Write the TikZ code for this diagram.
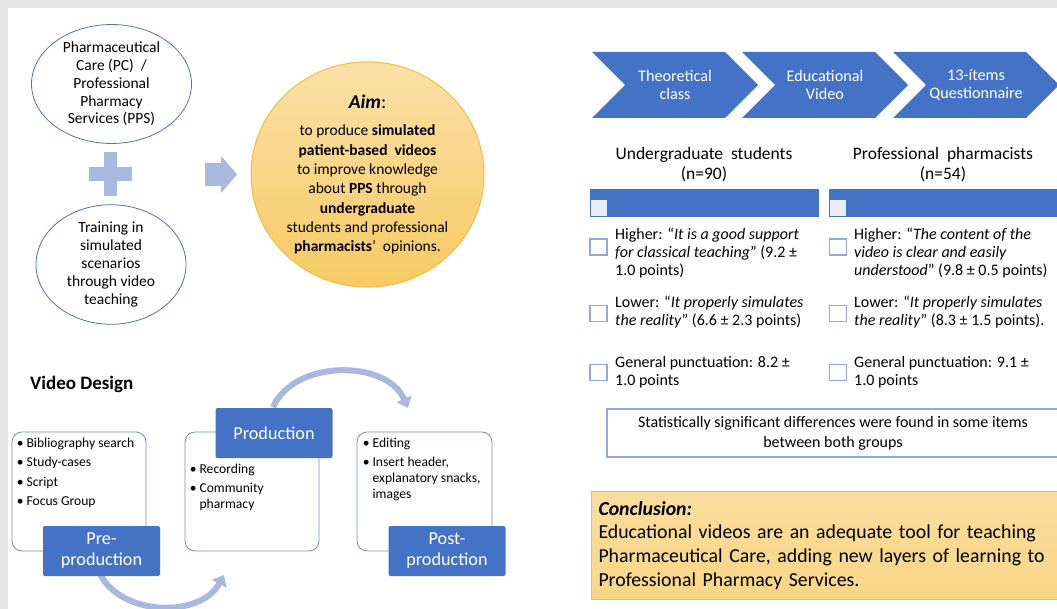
\documentclass[tikz,border=0pt]{standalone}
\usepackage{fontspec}
\setmainfont{Carlito}
\usetikzlibrary{positioning,shapes.geometric,shapes.symbols,arrows.meta}
\definecolor{ppsblue}{HTML}{4472C4}
\definecolor{ppslight}{HTML}{A9B8DE}
\definecolor{ppsline}{HTML}{8EA9DB}
\definecolor{ppspale}{HTML}{E9EEF8}
\definecolor{ppsgold}{HTML}{F5BC3C}
\definecolor{ppsgrey}{HTML}{E7E7E7}
\tikzset{topic/.style={
  ellipse,
  draw=ppsblue,
  line width=0.8,
  inner sep=0,
  align=center,
  font=\fontsize{15.5}{17.8}\selectfont,
  },
  aimblob/.style={
  ellipse,
  draw=ppsgold,
  line width=1,
  top color=ppsgold!45!white,
  bottom color=ppsgold!80!white,
  inner sep=0,
  align=center,
  font=\fontsize{15.5}{19.3}\selectfont,
  },
  stagechev/.style={
  signal, signal from=west, signal to=east,
  fill=ppsblue,
  minimum width=166, minimum height=66,
  inner sep=0,
  text=white, align=center,
  font=\fontsize{16.2}{18}\selectfont,
  },
  grouphead/.style={align=center, font=\fontsize{17.5}{20}\selectfont},
  groupbar/.style={fill=ppsblue, minimum height=28, inner sep=0},
  barmark/.style={fill=ppspale, minimum width=16, minimum height=16, inner sep=0},
  checkbox/.style={draw=ppsline, line width=1.2, minimum width=17, minimum height=16, inner sep=0},
  itemtxt/.style={anchor=west, align=left, inner sep=0, font=\fontsize{16}{18}\selectfont},
  phasebox/.style={draw=ppsblue!80!white, fill=white, line width=0.8, rounded corners=10, minimum height=119, inner sep=0},
  phaselbl/.style={fill=ppsblue, text=white, rounded corners=2, minimum width=117, minimum height=50,
  inner sep=0, align=center, font=\fontsize{18.2}{21}\selectfont},
  bullets/.style={anchor=north west, inner sep=0, font=\fontsize{13.6}{16}\selectfont},
  cyclearrow/.style={draw=ppslight, line width=6, -{Triangle[width=16pt,length=10pt]}},
  notebox/.style={draw=ppsline, line width=1.3, minimum width=452, minimum height=48, inner sep=0,
  align=center, font=\fontsize{16}{20}\selectfont},
  conclbox/.style={draw=ppsgold, line width=1, top color=ppsgold!50!white, bottom color=ppsgold!62!white,
  anchor=north west, text width=475, minimum height=108, inner xsep=7, inner ysep=0,
  align=left, font=\fontsize{19.8}{23.8}\selectfont},
}

\begin{document}
\begin{tikzpicture}[x=1pt,y=-1pt]
  \useasboundingbox (0,0) rectangle (1057,609);
  \fill[ppsgrey] (0,0) rectangle (1057,609);
  \fill[white] (8,8) rectangle (1057,609);

  \node[topic, minimum width=160, minimum height=103] (pps) at (111.5,84)
    {Pharmaceutical\\Care (PC)~ /\\Professional\\Pharmacy\\Services (PPS)};
  \fill[ppslight] (89,167) rectangle (132,181);
  \fill[ppslight] (104,152) rectangle (117,196);
  \node[topic, minimum width=150, minimum height=103] (train) at (111,264.5)
    {Training in\\simulated\\scenarios\\through video\\teaching};
  \fill[ppslight] (205,163) -- (221,163) -- (221,156) -- (237,174.5) -- (221,193) -- (221,186) -- (205,186) -- cycle;

  \node[aimblob, minimum width=233, minimum height=207] (aim) at (367.5,174.5)
    {{\fontsize{19.5}{20}\selectfont\textbf{\textit{Aim}}:}\\[8pt]
     to produce \textbf{simulated}\\
     \textbf{patient-based~ videos}\\
     to improve knowledge\\
     about \textbf{PPS} through\\
     \textbf{undergraduate}\\
     students and professional\\
     \textbf{pharmacists}’~ opinions.};

  \node[anchor=west, inner sep=0, font=\bfseries\fontsize{19}{20}\selectfont] (vdesign) at (30,384) {Video Design};

  \coordinate (topA) at (273,407);
  \coordinate (topB) at (408,408);
  \draw[cyclearrow] (topA) to[bend left=66] (topB);
  \coordinate (botA) at (100,574);
  \coordinate (botB) at (224,575);
  \draw[cyclearrow] (botA) to[bend right=62] (botB);

  \node[phasebox, minimum width=134] (prebox) at (79,491.5) {};
  \node[phasebox, minimum width=134] (prodbox) at (252,491.5) {};
  \node[phasebox, minimum width=135] (postbox) at (424.5,491.5) {};
  \node[phaselbl] (prelbl) at (101.5,551) {Pre-\\production};
  \node[phaselbl] (prodlbl) at (274,433) {Production};
  \node[phaselbl] (postlbl) at (447,551) {Post-\\production};

  \node[bullets] (prelist) at ([shift={(5,4)}]prebox.north west)
    {\begin{tabular}{@{}l@{\hspace{3pt}}l@{}}
     \textbullet & Bibliography search\\[3.5pt]
     \textbullet & Study-cases\\[3.5pt]
     \textbullet & Script\\[3.5pt]
     \textbullet & Focus Group
     \end{tabular}};
  \node[bullets] (prodlist) at ([shift={(5,30)}]prodbox.north west)
    {\begin{tabular}{@{}l@{\hspace{3pt}}l@{}}
     \textbullet & Recording\\[3.5pt]
     \textbullet & Community\\
                 & pharmacy
     \end{tabular}};
  \node[bullets] (postlist) at ([shift={(6,4)}]postbox.north west)
    {\begin{tabular}{@{}l@{\hspace{3pt}}l@{}}
     \textbullet & Editing\\[3.5pt]
     \textbullet & Insert header,\\
                 & explanatory snacks,\\
                 & images
     \end{tabular}};

  \node[stagechev] (theory) at (675,85) {Theoretical\\class};
  \node[stagechev] (video) at (825,85) {Educational\\Video};
  \node[stagechev] (quest) at (976,85) {13-ítems\\Questionnaire};

  \node[grouphead] (ugrad) at (704,165) {Undergraduate~ students\\(n=90)};
  \node[grouphead] (pharm) at (943,165) {Professional~ pharmacists\\(n=54)};
  \node[groupbar, minimum width=229] (ugbar) at (704.5,203) {};
  \node[groupbar, minimum width=232] (phbar) at (945,203) {};
  \node[barmark, anchor=south west] (ugmark) at ([shift={(1,-1)}]ugbar.south west) {};
  \node[barmark, anchor=south west] (phmark) at ([shift={(1,-1)}]phbar.south west) {};

  \node[checkbox] (ug1) at (598.5,247) {};
  \node[checkbox] (ug2) at (598.5,313.5) {};
  \node[checkbox] (ug3) at (598.5,372.5) {};
  \node[checkbox] (ph1) at (838,247) {};
  \node[checkbox] (ph2) at (838,313.5) {};
  \node[checkbox] (ph3) at (838,372.5) {};
  \node[itemtxt] (ug1t) at (615,253)
    {Higher: “\textit{It is a good support}\\\textit{for classical teaching}” (9.2 ±\\1.0 points)};
  \node[itemtxt] (ug2t) at (615,312)
    {Lower: “\textit{It properly simulates}\\\textit{the reality}” (6.6 ± 2.3 points)};
  \node[itemtxt] (ug3t) at (615,372)
    {General punctuation: 8.2 ±\\1.0 points};
  \node[itemtxt] (ph1t) at (854,253)
    {Higher: “\textit{The content of the}\\\textit{video is clear and easily}\\\textit{understood}” (9.8 ± 0.5 points)};
  \node[itemtxt] (ph2t) at (854,312)
    {Lower: “\textit{It properly simulates}\\\textit{the reality}” (8.3 ± 1.5 points).};
  \node[itemtxt] (ph3t) at (854,372)
    {General punctuation: 9.1 ±\\1.0 points};

  \node[notebox] (stat) at (833,433)
    {Statistically significant differences were found in some items\\between both groups};

  \node[conclbox] (concl) at (591,491)
    {\textbf{\textit{Conclusion:}}\\
     Educational videos are an adequate tool for teaching\\
     Pharmaceutical Care, adding new layers of learning to\\
     Professional Pharmacy Services.};
\end{tikzpicture}
\end{document}
